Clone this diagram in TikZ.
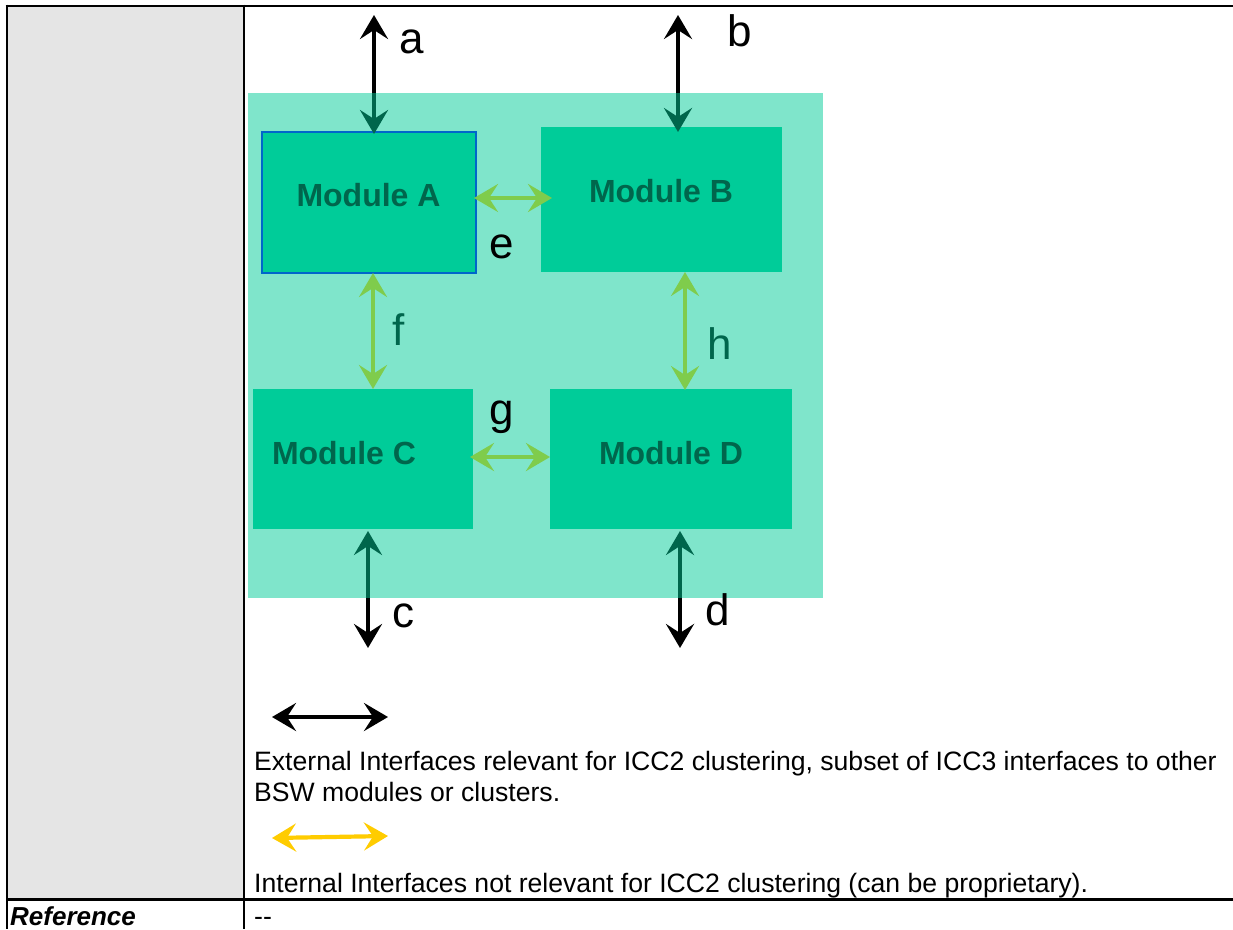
\documentclass[tikz,border=0pt]{standalone}
\usepackage{fontspec}
\setmainfont{Liberation Sans}
\usetikzlibrary{arrows.meta}
\definecolor{modfill}{HTML}{00CC99}
\definecolor{cellgray}{HTML}{E5E5E5}
\definecolor{ifyellow}{HTML}{FFCC00}
\definecolor{modblue}{HTML}{0000FF}
\tikzset{
  modbox/.style={fill=modfill, inner sep=0pt, outer sep=0pt},
  modtext/.style={inner sep=0pt, font=\bfseries\fontsize{32}{38}\selectfont},
  letter/.style={inner sep=0pt, anchor=base west, font=\fontsize{44}{50}\selectfont},
  legtext/.style={inner sep=0pt, anchor=base west, font=\fontsize{26.6}{31}\selectfont},
  tip/.tip={Stealth[length=24pt,width=28pt,inset=9pt]},
  ifarrow/.style={line width=4.2pt, tip-tip},
  extarrow/.style={ifarrow, draw=black},
  intarrow/.style={ifarrow, draw=ifyellow},
  tableline/.style={line width=2.8pt, draw=black}
}
\begin{document}
\begin{tikzpicture}[x=1pt,y=-1pt]
\useasboundingbox (0,0) rectangle (1233,929);
\fill[white] (0,0) rectangle (1233,929);
% gray cell
\fill[cellgray] (7,6) rectangle (244,899);

% module boxes
\node[modbox, draw=modblue, line width=1.5pt, minimum width=214pt, minimum height=141pt] (modA) at (369,202.5) {};
\node[modbox, minimum width=241pt, minimum height=145pt] (modB) at (661.5,199.5) {};
\node[modbox, minimum width=220pt, minimum height=140pt] (modC) at (363,459) {};
\node[modbox, minimum width=242pt, minimum height=140pt] (modD) at (671,459) {};

% module texts
\node[modtext] (modAt) at (368.5,195) {Module A};
\node[modtext] (modBt) at (661,191) {Module B};
\node[modtext] (modCt) at (344,453) {Module C};
\node[modtext] (modDt) at (671,453) {Module D};

% external interfaces
\coordinate (aEnd) at (374,15);
\coordinate (bEnd) at (678,15);
\coordinate (cEnd) at (368,648);
\coordinate (dEnd) at (680,648);
\draw[extarrow] (aEnd) -- ([yshift=-2pt]aEnd |- modA.north);
\draw[extarrow] (bEnd) -- ([yshift=-5pt]bEnd |- modB.north);
\draw[extarrow] (cEnd) -- ([yshift=-2pt]cEnd |- modC.south);
\draw[extarrow] (dEnd) -- ([yshift=-2pt]dEnd |- modD.south);

% internal interfaces
\coordinate (fx) at (373,0);
\coordinate (hx) at (685,0);
\draw[intarrow] ([yshift=4.5pt,xshift=-2pt]modA.east) -- ([yshift=4.5pt,xshift=11pt]modA.east -| modB.west);
\draw[intarrow] (fx |- modA.south) -- (fx |- modC.north);
\draw[intarrow] ([yshift=2pt,xshift=-3pt]modC.east) -- ([yshift=2pt]modC.east -| modD.west);
\draw[intarrow] (hx |- modB.south) -- ([yshift=-1pt]hx |- modD.north);

\node[letter] (lf) at (392.5,345) {f};
\node[letter] (lh) at (707.7,359) {h};

% translucent cluster area
\fill[modfill, opacity=0.5] (248,93) rectangle (823,598);

\node[letter] (la) at (399,53) {a};
\node[letter] (lb) at (727.5,46) {b};
\node[letter] (lc) at (392,627) {c};
\node[letter] (ld) at (705.5,625) {d};
\node[letter] (le) at (489,258) {e};
\node[letter] (lg) at (489,424.5) {g};

% legend
\coordinate (k1) at (272,717);
\coordinate (k2) at (388,717);
\coordinate (y1) at (272,838);
\coordinate (y2) at (388,836);
\draw[extarrow] (k1) -- (k2);
\draw[intarrow] (y1) -- (y2);
\node[legtext] (t1) at (254,770) {External Interfaces relevant for ICC2 clustering, subset of ICC3 interfaces to other};
\node[legtext] (t2) at (254,801) {BSW modules or clusters.};
\node[legtext] (t3) at (254,892) {Internal Interfaces not relevant for ICC2 clustering (can be proprietary).};
\node[legtext, font=\bfseries\itshape\fontsize{26}{31}\selectfont] (tref) at (10,925) {Reference};
\node[legtext] (tdash) at (254,925) {-{}-};

% table lines
\draw[tableline] (5.6,6) -- (1233,6);
\draw[tableline] (7,4.6) -- (7,929);
\draw[tableline] (244,4.6) -- (244,929);
\draw[tableline] (7,899.5) -- (1233,899.5);
\end{tikzpicture}
\end{document}
